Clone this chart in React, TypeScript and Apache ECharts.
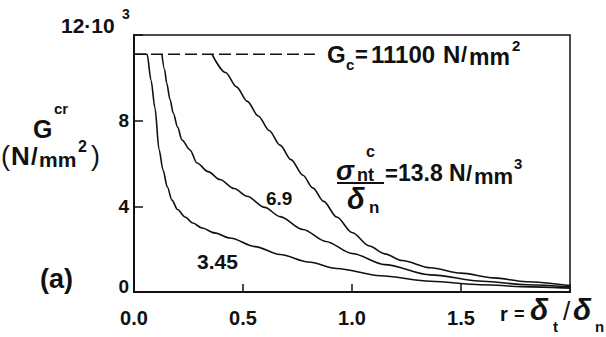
import React, { useEffect, useRef } from "react";
import * as echarts from "echarts";

// ---- data ----
const xTickLabels = ["0.0", "0.5", "1.0", "1.5"];
const yTickLabels = ["0", "4", "8", "12"];
const yTopSuffix = "·10";
const yTopExponent = "3";

const gcValue = 11.1; // G_c = 11100 N/mm^2 in units of 10^3
const gcLineR = [0, 0.83];

// sigma_nt^c / delta_n = 3.45
const r345 = [0, 0.06, 0.078, 0.096, 0.115, 0.133, 0.153, 0.174, 0.2, 0.234, 0.27, 0.312, 0.37, 0.44, 0.555, 0.67, 0.8, 0.93, 1.13, 1.36, 1.59, 1.82, 2.0];
const g345 = [11.1, 11.1, 9.9, 8.6, 6.65, 5.7, 4.9, 4.29, 3.85, 3.5, 3.22, 2.99, 2.76, 2.52, 2.12, 1.75, 1.4, 1.1, 0.76, 0.5, 0.34, 0.24, 0.18];

// sigma_nt^c / delta_n = 6.9
const r69 = [0.128, 0.14, 0.15, 0.165, 0.18, 0.2, 0.22, 0.257, 0.289, 0.34, 0.394, 0.46, 0.518, 0.6, 0.67, 0.775, 0.88, 1.0, 1.15, 1.36, 1.6, 1.8, 2.0];
const g69 = [11.1, 10.4, 9.76, 9.0, 8.36, 7.7, 7.1, 6.63, 6.02, 5.62, 5.25, 4.83, 4.47, 3.95, 3.52, 2.92, 2.36, 1.8, 1.28, 0.8, 0.5, 0.34, 0.24];

// sigma_nt^c / delta_n = 13.8
const r138 = [0.358, 0.42, 0.47, 0.52, 0.57, 0.62, 0.67, 0.72, 0.775, 0.82, 0.87, 0.93, 1.0, 1.08, 1.15, 1.23, 1.36, 1.5, 1.65, 1.8, 2.0];
const g138 = [11.1, 10.25, 9.58, 8.9, 8.22, 7.54, 6.86, 6.18, 5.45, 4.86, 4.23, 3.5, 2.78, 2.15, 1.78, 1.47, 1.13, 0.88, 0.66, 0.48, 0.3];

const FONT = '"Liberation Sans", Arial, Helvetica, sans-serif';
const INK = "#111";

function txt(text: string, x: number, y: number, size: number, extra: any = {}) {
  return {
    type: "text",
    x,
    y,
    silent: true,
    style: {
      text,
      fontSize: size,
      fontWeight: "bold",
      fontFamily: FONT,
      fill: INK,
      align: "left",
      verticalAlign: "middle",
      ...extra,
    },
  };
}

export default function App() {
  const ref = useRef<HTMLDivElement>(null);
  useEffect(() => {
    const chart = echarts.init(ref.current!, null, { renderer: "svg" });
    const zip = (r: number[], g: number[]) => r.map((x, i) => [x, g[i]]);
    const curve = (name: string, r: number[], g: number[]) => ({
      type: "line",
      name,
      data: zip(r, g),
      showSymbol: false,
      smooth: 0.3,
      smoothMonotone: "x",
      silent: true,
      lineStyle: { color: INK, width: 1.6 },
    });
    const labelRich = { fontWeight: "bold", fontFamily: FONT, color: INK };
    chart.setOption({
      animation: false,
      backgroundColor: "#fff",
      grid: {
        left: 134,
        right: 36,
        top: 35,
        bottom: 45,
        show: true,
        borderColor: INK,
        borderWidth: 1.5,
        backgroundColor: "transparent",
      },
      xAxis: {
        type: "value",
        min: 0,
        max: 2,
        interval: 0.5,
        splitLine: { show: false },
        axisLine: { show: true, lineStyle: { color: INK, width: 2 } },
        axisTick: { show: true, inside: true, length: 8, lineStyle: { color: INK, width: 1.5 } },
        axisLabel: {
          margin: 16,
          fontSize: 20,
          fontWeight: "bold",
          fontFamily: FONT,
          color: INK,
          formatter: (v: number) => {
            const i = Math.round(v / 0.5);
            return xTickLabels[i] ?? "";
          },
        },
      },
      yAxis: {
        type: "value",
        min: 0,
        max: 12,
        interval: 4,
        splitLine: { show: false },
        axisLine: { show: true, lineStyle: { color: INK, width: 2 } },
        axisTick: { show: true, inside: true, length: 9, lineStyle: { color: INK, width: 1.5 } },
        axisLabel: {
          margin: 5,
          fontSize: 19,
          fontWeight: "bold",
          fontFamily: FONT,
          color: INK,
          formatter: (v: number) => {
            const i = Math.round(v / 4);
            if (i >= 3) return ""; // top label drawn with its exponent below
            const s = yTickLabels[i] ?? "";
            if (i === 0) return `{z|${s}}`;
            return s;
          },
          rich: {
            z: { ...labelRich, fontSize: 19, padding: [0, 0, 12, 0] },
          },
        },
      },
      series: [
        {
          type: "line",
          name: "Gc",
          data: gcLineR.map((r) => [r, gcValue]),
          showSymbol: false,
          silent: true,
          lineStyle: { color: INK, width: 1.5, type: [12, 5] },
        },
        curve("3.45", r345, g345),
        curve("6.9", r69, g69),
        curve("13.8", r138, g138),
      ],
      graphic: [
        // top y tick label 12·10^3
        txt(yTickLabels[3] + yTopSuffix, 61, 25, 21),
        txt(yTopExponent, 122, 14, 14),
        // y axis title G^cr (N/mm^2)
        txt("G", 33, 129, 25),
        txt("cr", 54, 108, 15),
        txt("(", 1, 156, 27, { fontWeight: "normal" }),
        txt("N", 11, 156, 26),
        txt("/", 31, 156, 24),
        txt("mm", 39, 159, 21),
        txt("2", 78, 146, 16),
        txt(")", 91, 156, 27, { fontWeight: "normal" }),
        // (a)
        txt("(a)", 40, 279, 27),
        // curve labels
        txt("6.9", 266, 198, 19),
        txt("3.45", 197, 261, 21),
        // Gc label
        txt("G", 327, 54, 24),
        txt("c", 346, 64, 15),
        txt("=", 355, 54, 22),
        txt("11100", 371, 54, 24),
        txt("N", 443, 54, 24),
        txt("/", 461, 54, 22),
        txt("mm", 469, 57, 23),
        txt("2", 512, 45, 15),
        // sigma_nt^c / delta_n = 13.8 N/mm^3
        txt("σ", 336, 171, 27, { fontStyle: "italic" }),
        txt("nt", 357, 175, 18),
        txt("c", 366, 151, 16),
        {
          type: "line",
          silent: true,
          shape: { x1: 337, y1: 183, x2: 384, y2: 183 },
          style: { stroke: INK, lineWidth: 2 },
        },
        txt("δ", 347, 199, 29, { fontStyle: "italic" }),
        txt("n", 369, 207, 17),
        txt("=", 385, 173, 22),
        txt("13.8", 398, 173, 23),
        txt("N", 449, 173, 23),
        txt("/", 466, 173, 22),
        txt("mm", 474, 176, 22),
        txt("3", 514, 163, 15),
        // x axis name r = delta_t / delta_n
        txt("r", 500, 314, 20),
        txt("=", 514, 314, 18),
        txt("δ", 530, 309, 30, { fontStyle: "italic" }),
        txt("t", 553, 326, 15),
        txt("/", 563, 311, 26, { fontWeight: "normal" }),
        txt("δ", 573, 309, 30, { fontStyle: "italic" }),
        txt("n", 595, 326, 15),
      ],
    });
    return () => chart.dispose();
  }, []);
  return (
    <div
      ref={ref}
      style={{ position: "fixed", left: 0, top: 0, width: 606, height: 337, background: "#fff" }}
    />
  );
}
